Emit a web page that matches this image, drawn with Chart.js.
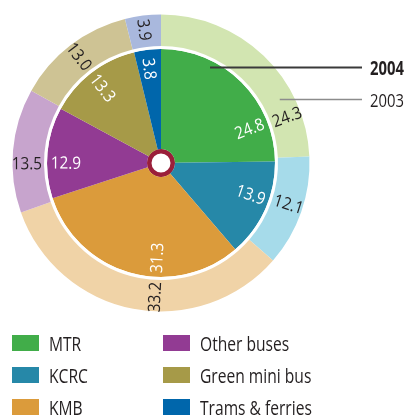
<!DOCTYPE html>
<html><head><meta charset="utf-8">
<script src="https://cdn.jsdelivr.net/npm/chart.js@4.4.1/dist/chart.umd.min.js"></script>
<style>html,body{margin:0;padding:0;background:#fff;overflow:hidden}#wrap{position:relative;width:405px;height:419px}</style>
</head><body><div id="wrap"><canvas id="c" width="405" height="419"></canvas></div>
<script>
const categories = ['MTR','KCRC','KMB','Other buses','Green mini bus','Trams & ferries'];
const share2004 = [24.8, 13.9, 31.3, 12.9, 13.3, 3.8];
const share2003 = [24.3, 12.1, 33.2, 13.5, 13.0, 3.9];
const seriesNames = ['2004', '2003'];
const colors2004 = ['#41ad49','#2688a8','#db9b3b','#923b93','#a69a48','#0066ab'];
const colors2003 = ['#d2e5b1','#a6dbea','#f0d3a7','#c7a4cd','#cec394','#a9b8dd'];

const FONT = '"Open Sans", "Noto Sans", sans-serif';
const TEXT = '#231f20';
const SQUEEZE = 0.78;

function squeezedText(ctx, txt, x, y, sx) {
  ctx.save();
  ctx.translate(x, y);
  ctx.scale(sx, 1);
  ctx.fillText(txt, 0, 0);
  ctx.restore();
}

const sliceLabels = {
  id: 'sliceLabels',
  afterDatasetsDraw(chart, args, opts) {
    const ctx = chart.ctx;
    const specs = [
      {ds: 0, values: share2003, color: TEXT, nudge: opts.outerNudge, pos: 'mid'},
      {ds: 2, values: share2004, color: '#ffffff', nudge: opts.innerNudge, pos: 'edge'}
    ];
    ctx.save();
    ctx.font = '17px ' + FONT;
    ctx.textAlign = 'center';
    ctx.textBaseline = 'alphabetic';
    specs.forEach(s => {
      const meta = chart.getDatasetMeta(s.ds);
      meta.data.forEach((arc, i) => {
        const p = arc.getProps(['x','y','startAngle','endAngle','innerRadius','outerRadius'], true);
        const a = (p.startAngle + p.endAngle) / 2 + (s.nudge[i] || 0) * Math.PI / 180;
        const r = s.pos === 'mid' ? (p.innerRadius + p.outerRadius) / 2 + 1.5 : p.outerRadius - 19;
        const x = p.x + r * Math.cos(a), y = p.y + r * Math.sin(a);
        let rot = a;
        if (Math.cos(a) < -0.001) rot = a + Math.PI;
        ctx.save();
        ctx.translate(x, y);
        ctx.rotate(rot);
        ctx.fillStyle = s.color;
        squeezedText(ctx, s.values[i].toFixed(1), 0, 6, 0.9);
        ctx.restore();
      });
    });
    ctx.restore();
  }
};

const callouts = {
  id: 'callouts',
  afterDatasetsDraw(chart) {
    const ctx = chart.ctx;
    const inner = chart.getDatasetMeta(2).data[0].getProps(['x','y','outerRadius'], true);
    const outer = chart.getDatasetMeta(0).data[0].getProps(['innerRadius','outerRadius'], true);
    const endX = chart.width - 43, textX = chart.width - 35;
    const items = [
      {name: seriesNames[0], r: inner.outerRadius - 6, ang: -63, color: '#3a3a3a', w: 2, bold: true},
      {name: seriesNames[1], r: (outer.innerRadius + outer.outerRadius) / 2 + 2, ang: -28.2, color: '#8c8c8c', w: 1.5, bold: false}
    ];
    ctx.save();
    items.forEach(it => {
      const a = it.ang * Math.PI / 180;
      const x0 = inner.x + it.r * Math.cos(a);
      const y0 = Math.round(inner.y + it.r * Math.sin(a)) + 0.5;
      ctx.beginPath();
      ctx.moveTo(x0, y0);
      ctx.lineTo(endX, y0);
      ctx.strokeStyle = it.color;
      ctx.lineWidth = it.w;
      ctx.stroke();
      ctx.font = (it.bold ? 'bold ' : '') + '19px ' + FONT;
      ctx.fillStyle = TEXT;
      ctx.textAlign = 'left';
      ctx.textBaseline = 'alphabetic';
      squeezedText(ctx, it.name, textX, y0 + 7, SQUEEZE);
    });
    ctx.restore();
  }
};

const gridLegend = {
  id: 'gridLegend',
  afterDraw(chart) {
    const ctx = chart.ctx;
    const labels = chart.data.labels;
    const cols = [12, 163];
    const top0 = 335, rowH = 32;
    ctx.save();
    ctx.font = '20px ' + FONT;
    ctx.textAlign = 'left';
    ctx.textBaseline = 'alphabetic';
    labels.forEach((lab, i) => {
      const col = Math.floor(i / 3), row = i % 3;
      const x = cols[col], y = top0 + row * rowH;
      ctx.fillStyle = chart.data.datasets[2].backgroundColor[i];
      ctx.fillRect(x, y, 27, 16);
      ctx.fillStyle = TEXT;
      squeezedText(ctx, lab, x + 37, y + 16, SQUEEZE);
    });
    ctx.restore();
  }
};

new Chart(document.getElementById('c'), {
  type: 'doughnut',
  data: {
    labels: categories,
    datasets: [
      {label: seriesNames[1], data: share2003, backgroundColor: colors2003, borderWidth: 0, weight: 31.5},
      {label: 'gap', data: [100], backgroundColor: ['#ffffff'], borderWidth: 0, weight: 3},
      {label: seriesNames[0], data: share2004, backgroundColor: colors2004, borderWidth: 0, weight: 100},
      {label: 'hub', data: [100], backgroundColor: ['#9a1f3a'], borderWidth: 0, weight: 4.5}
    ]
  },
  options: {
    responsive: false,
    animation: false,
    cutout: 9.5,
    layout: {padding: {left: 12.5, top: 14.5, right: 95.5, bottom: 107.5}},
    plugins: {
      legend: {display: false},
      tooltip: {enabled: false},
      sliceLabels: {
        innerNudge: [24, -5, -13, -5, 0, 0],
        outerNudge: [26, -1.5, -8, -5, 0, 0]
      }
    },
    events: []
  },
  plugins: [sliceLabels, callouts, gridLegend]
});
</script>
</body></html>
